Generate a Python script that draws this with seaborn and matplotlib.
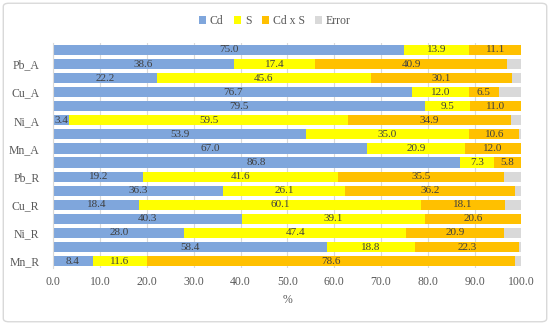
import numpy as np
import pandas as pd
import matplotlib
matplotlib.use("Agg")
import matplotlib.pyplot as plt
from matplotlib.patches import FancyBboxPatch, Patch
import seaborn as sns

# values, top bar first
row_labels = ["", "Pb_A", "", "Cu_A", "", "Ni_A", "", "Mn_A",
              "", "Pb_R", "", "Cu_R", "", "Ni_R", "", "Mn_R"]
cd = [75.0, 38.6, 22.2, 76.7, 79.5, 3.4, 53.9, 67.0,
      86.8, 19.2, 36.3, 18.4, 40.3, 28.0, 58.4, 8.4]
s = [13.9, 17.4, 45.6, 12.0, 9.5, 59.5, 35.0, 20.9,
     7.3, 41.6, 26.1, 60.1, 39.1, 47.4, 18.8, 11.6]
cdxs = [11.1, 40.9, 30.1, 6.5, 11.0, 34.9, 10.6, 12.0,
        5.8, 35.5, 36.2, 18.1, 20.6, 20.9, 22.3, 78.6]
error = [0.0, 3.1, 2.1, 4.8, 0.0, 2.2, 0.5, 0.1,
         0.1, 3.7, 1.4, 3.4, 0.0, 3.7, 0.5, 1.4]

series = ["Cd", "S", "Cd x S", "Error"]
colors = ["#7FA6DC", "#FFFF00", "#FFC000", "#D9D9D9"]

df = pd.DataFrame({"row": list(range(len(cd))), "Cd": cd, "S": s,
                   "Cd x S": cdxs, "Error": error})
cum = df[series].cumsum(axis=1)

plt.rcParams["font.family"] = ["Liberation Serif", "DejaVu Serif"]
text_col = "#595959"

fig = plt.figure(figsize=(5.5, 3.25), dpi=100)
ax = fig.add_axes([0.097, 0.175, 0.851, 0.693])
ax.set_axisbelow(True)

# stacked bars by overlaying cumulative totals, largest first
for name, col in reversed(list(zip(series, colors))):
    sns.barplot(x=cum[name], y=df["row"].astype(str), orient="h", color=col,
                width=0.72, saturation=1, ax=ax, order=df["row"].astype(str))

# segment labels
for name in series[:3]:
    for i in range(len(df)):
        v = df[name][i]
        if v <= 0:
            continue
        x = cum[name][i] - v / 2
        ax.text(x, i, f"{v:.1f}", ha="center", va="center",
                fontsize=8, color="#404040")

ax.set_xlim(0, 100)
ax.set_xticks(np.arange(0, 101, 10))
ax.set_xticklabels([f"{t:.1f}" for t in np.arange(0, 101, 10)])
ax.set_yticks(range(len(row_labels)))
ax.set_yticklabels(row_labels)
ax.set_xlabel("%", fontsize=8.5, color=text_col, labelpad=4)
ax.set_ylabel("")
ax.tick_params(axis="both", length=0, labelsize=8.5, labelcolor=text_col, pad=6)
ax.tick_params(axis="y", pad=10)
ax.grid(axis="x", color="#D9D9D9", linewidth=0.8)
for sp in ["top", "right", "bottom"]:
    ax.spines[sp].set_visible(False)
ax.spines["left"].set_color("#D9D9D9")

handles = [Patch(facecolor=c, edgecolor="none") for c in colors]
fig.legend(handles, series, loc="center", bbox_to_anchor=(0.5, 0.935), ncol=4,
           frameon=False, fontsize=8.5, labelcolor=text_col,
           handlelength=0.6, handleheight=0.6, handletextpad=0.3, columnspacing=0.9)

fig.patches.append(FancyBboxPatch((0.006, 0.01), 0.988, 0.98,
                                  boxstyle="round,pad=0,rounding_size=0.01",
                                  transform=fig.transFigure, facecolor="none",
                                  edgecolor="#D9D9D9", linewidth=1))

fig.savefig("out.png", dpi=100)
